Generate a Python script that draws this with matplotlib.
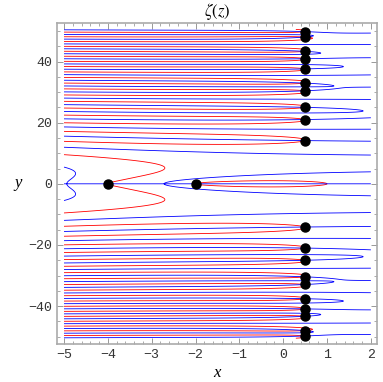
import numpy as np
import matplotlib
matplotlib.use('Agg')
import matplotlib.pyplot as plt
from matplotlib.ticker import MultipleLocator

plt.rcParams['mathtext.fontset'] = 'stix'

# plot region (same as the reference: x in [-5, 2], y in [-50.5, 50.5])
x_range = [-5.0, 2.0]
y_range = [-50.5, 50.5]

# zeros of zeta marked with dots
trivial_zeros = [-4.0, -2.0]
critical_re = 0.5
zero_heights = [14.1347, 21.0220, 25.0109, 30.4249, 32.9351,
                37.5862, 40.9187, 43.3271, 48.0052, 49.7738]

# Bernoulli numbers B2, B4, ..., B30 for the Euler-Maclaurin tail
bernoulli = [1/6, -1/30, 1/42, -1/30, 5/66, -691/2730, 7/6, -3617/510,
             43867/798, -174611/330, 854513/138, -236364091/2730,
             8553103/6, -23749461029/870, 8615841276005/14322]


def zeta(s, N=40):
    total = np.zeros_like(s)
    for n in range(1, N):
        total += np.exp(-s * np.log(n))
    Ns = np.exp(-s * np.log(N))
    total += N * Ns / (s - 1) + 0.5 * Ns
    fac = s * Ns / N / 2.0  # s * N^(-s-1) / 2!
    for k, b in enumerate(bernoulli, start=1):
        total += b * fac
        fac = fac * (s + 2*k - 1) * (s + 2*k) / ((2*k + 1) * (2*k + 2) * N**2)
    return total


xs = np.linspace(x_range[0], x_range[1], 421)
ys = np.linspace(y_range[0], y_range[1], 2600)
X, Y = np.meshgrid(xs, ys)
Z = zeta(X + 1j * Y)

fig = plt.figure(figsize=(3.83, 3.82), dpi=100)
ax = fig.add_axes([57/383, 1 - 344/382, 320/383, 321/382])

ax.contour(X, Y, Z.real, levels=[0], colors='#ff0000', linewidths=0.6)
ax.contour(X, Y, Z.imag, levels=[0], colors='#0000ff', linewidths=0.6)

dot_x = trivial_zeros + [critical_re] * (2 * len(zero_heights))
dot_y = [0.0, 0.0] + zero_heights + [-h for h in zero_heights]
ax.plot(dot_x, dot_y, 'o', color='black', markersize=6.5, zorder=5)

ax.set_xlim(-5.16, 2.14)
ax.set_ylim(-52.4, 52.6)

ax.xaxis.set_major_locator(MultipleLocator(1))
ax.xaxis.set_minor_locator(MultipleLocator(0.2))
ax.yaxis.set_major_locator(MultipleLocator(20))
ax.yaxis.set_minor_locator(MultipleLocator(5))
ax.tick_params(which='both', direction='in', top=True, right=True,
               color='#888888', labelsize=9.5)
ax.tick_params(which='major', length=4, width=0.6)
ax.tick_params(which='minor', length=2, width=0.5)
for lab in ax.get_xticklabels() + ax.get_yticklabels():
    lab.set_family('Liberation Mono')
    lab.set_color('#333333')
for sp in ax.spines.values():
    sp.set_color('#aaaaaa')
    sp.set_linewidth(1.2)

ax.set_title(r'$\zeta(z)$', fontsize=12, pad=5)
ax.set_xlabel('x', fontsize=12, style='italic', family='Liberation Serif', labelpad=3)
ax.set_ylabel('y', fontsize=12, style='italic', family='Liberation Serif',
              rotation=0, labelpad=7, va='center')

fig.savefig('out.png', dpi=100)
